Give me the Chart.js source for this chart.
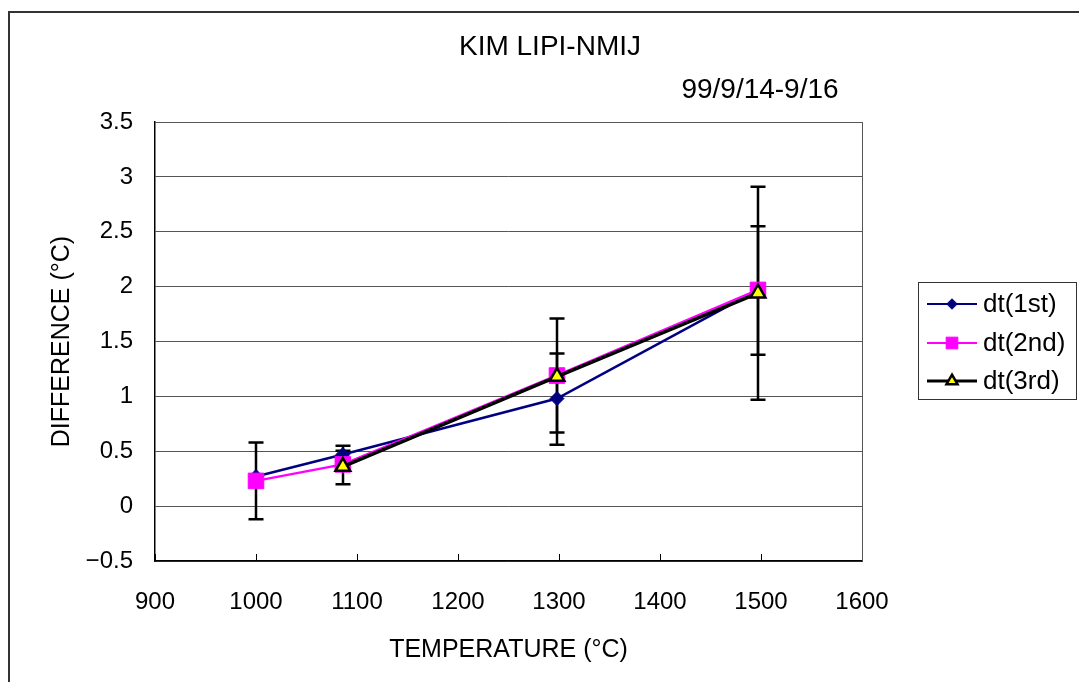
<!DOCTYPE html>
<html><head><meta charset="utf-8">
<script src="https://cdn.jsdelivr.net/npm/chart.js@4"></script>
<style>
html,body{margin:0;padding:0;background:#fff;overflow:hidden}
#wrap{position:relative;width:1079px;height:682px;overflow:hidden}
#frame{position:absolute;left:8px;top:11px;width:1200px;height:800px;border-left:2px solid #333;border-top:2px solid #333}
canvas{position:absolute;left:0;top:0}
</style></head><body>
<div id="wrap"><div id="frame"></div><canvas id="c" width="1079" height="682"></canvas></div>
<script>
// ---- data ----
const chartTitle = 'KIM LIPI-NMIJ';
const chartDate = '99/9/14-9/16';
const seriesNames = ['dt(1st)', 'dt(2nd)', 'dt(3rd)'];
const temperatures = [1000, 1086, 1298, 1497];
const dt1st = [0.27, 0.47, 0.98, 1.97];
const dt2nd = [0.23, 0.38, 1.19, 1.97];
const dt3rd = [null, 0.36, 1.18, 1.94];
// error bar limits (low / high) for each point
const err1stLow  = [null, 0.43, 0.56, 0.97];
const err1stHigh = [null, 0.505, 1.39, 2.91];
const err2ndLow  = [-0.12, null, 0.67, 1.38];
const err2ndHigh = [0.58, null, 1.71, 2.55];
const err3rdLow  = [null, 0.20, null, null];
const err3rdHigh = [null, 0.55, null, null];
const xTicks = [900, 1000, 1100, 1200, 1300, 1400, 1500, 1600];
const yTicks = [-0.5, 0, 0.5, 1, 1.5, 2, 2.5, 3, 3.5];
const yTickLabels = ['\u22120.5', '0', '0.5', '1', '1.5', '2', '2.5', '3', '3.5'];

const FONT = "'Liberation Sans', Arial, sans-serif";

function pts(ys) { return temperatures.map((t, i) => ({x: t, y: ys[i]})); }

const styles = [
  {color: '#000080', width: 2.5, style: 'rectRot', radius: 7, bg: '#000080', pb: '#000080', pbw: 1},
  {color: '#FF00FF', width: 2.5, style: 'rect', radius: 11, bg: '#FF00FF', pb: '#FF00FF', pbw: 1},
  {color: '#000000', width: 3.5, style: 'triangle', radius: 8.5, bg: '#FFFF00', pb: '#000000', pbw: 2.5}
];
const seriesData = [dt1st, dt2nd, dt3rd];
const errLow = [err1stLow, err2ndLow, err3rdLow];
const errHigh = [err1stHigh, err2ndHigh, err3rdHigh];

const datasets = seriesData.map((d, i) => ({
  label: seriesNames[i],
  data: pts(d),
  borderColor: styles[i].color,
  borderWidth: styles[i].width,
  backgroundColor: styles[i].bg,
  pointStyle: styles[i].style,
  pointRadius: styles[i].radius,
  pointHoverRadius: styles[i].radius,
  pointBackgroundColor: styles[i].bg,
  pointBorderColor: styles[i].pb,
  pointBorderWidth: styles[i].pbw,
  tension: 0,
  order: 3 - i
}));

const errorBars = {
  id: 'errorBars',
  beforeDatasetsDraw(chart) {
    const {ctx, scales: {x, y}} = chart;
    ctx.save();
    ctx.strokeStyle = '#000';
    ctx.lineWidth = 2.5;
    for (let s = 0; s < 3; s++) {
      for (let i = 0; i < temperatures.length; i++) {
        const lo = errLow[s][i], hi = errHigh[s][i];
        if (lo == null || hi == null) continue;
        const px = Math.round(x.getPixelForValue(temperatures[i]));
        const p1 = y.getPixelForValue(lo), p2 = y.getPixelForValue(hi);
        ctx.beginPath();
        ctx.moveTo(px, p1); ctx.lineTo(px, p2);
        ctx.moveTo(px - 7.5, p1); ctx.lineTo(px + 7.5, p1);
        ctx.moveTo(px - 7.5, p2); ctx.lineTo(px + 7.5, p2);
        ctx.stroke();
      }
    }
    ctx.restore();
  }
};

const decor = {
  id: 'decor',
  beforeDatasetsDraw(chart) {
    const {ctx, chartArea: a} = chart;
    ctx.save();
    ctx.strokeStyle = '#555';
    ctx.lineWidth = 1;
    ctx.beginPath();
    ctx.moveTo(Math.round(a.right) + 0.5, a.top);
    ctx.lineTo(Math.round(a.right) + 0.5, a.bottom);
    ctx.stroke();
    ctx.restore();
  },
  afterDraw(chart) {
    const {ctx} = chart;
    ctx.save();
    ctx.fillStyle = '#000';
    ctx.textBaseline = 'middle';
    ctx.textAlign = 'center';
    ctx.font = '28px ' + FONT;
    ctx.fillText(chartTitle, 550, 47);
    ctx.font = '28px ' + FONT;
    ctx.fillText(chartDate, 760, 90);
    // legend
    const bx = 918.5, by = 282.5, bw = 158, bh = 117;
    ctx.strokeStyle = '#333';
    ctx.lineWidth = 1;
    ctx.fillStyle = '#fff';
    ctx.fillRect(bx, by, bw, bh);
    ctx.strokeRect(bx, by, bw, bh);
    const rowsY = [304, 343, 381];
    chart.data.datasets.forEach((ds, i) => {
      const yy = rowsY[i];
      ctx.strokeStyle = ds.borderColor;
      ctx.lineWidth = ds.borderWidth * 0.8;
      ctx.beginPath();
      ctx.moveTo(927, yy); ctx.lineTo(977, yy);
      ctx.stroke();
      ctx.fillStyle = ds.pointBackgroundColor;
      ctx.strokeStyle = ds.pointBorderColor;
      ctx.lineWidth = ds.pointBorderWidth;
      Chart.helpers.drawPoint(ctx, {pointStyle: ds.pointStyle, radius: ds.pointRadius * 0.75, rotation: 0, borderWidth: ds.pointBorderWidth}, 952, yy);
      ctx.fillStyle = '#000';
      ctx.textAlign = 'left';
      ctx.font = '26px ' + FONT;
      ctx.fillText(ds.label, 983, yy + 1);
    });
    ctx.restore();
  }
};

new Chart(document.getElementById('c'), {
  type: 'line',
  data: {datasets},
  plugins: [errorBars, decor],
  options: {
    responsive: false,
    animation: false,
    events: [],
    layout: {padding: {left: 0, top: 122, right: 217, bottom: 0}},
    plugins: {legend: {display: false}, title: {display: false}, tooltip: {enabled: false}},
    scales: {
      x: {
        type: 'linear', min: 900, max: 1600,
        afterBuildTicks(s) { s.ticks = xTicks.map(v => ({value: v})); },
        afterFit(s) { s.height = 121; },
        grid: {drawOnChartArea: false, drawTicks: true, tickLength: -7, color: '#000', lineWidth: 1},
        border: {display: true, color: '#000', width: 1.5},
        ticks: {color: '#000', padding: 34, font: {family: FONT, size: 24}, maxRotation: 0,
          callback: (v) => String(v)},
        title: {display: true, text: 'TEMPERATURE (\u00B0C)', color: '#000', font: {family: FONT, size: 25}, padding: {top: 0, bottom: 17}}
      },
      y: {
        type: 'linear', min: -0.5, max: 3.5,
        afterBuildTicks(s) { s.ticks = yTicks.map(v => ({value: v})); },
        afterFit(s) { s.width = 155; },
        grid: {color: '#555', lineWidth: 1, drawTicks: false},
        border: {display: true, color: '#000', width: 1.5},
        ticks: {color: '#000', padding: 22, font: {family: FONT, size: 24},
          callback: (v) => yTickLabels[yTicks.indexOf(v)]},
        title: {display: true, text: 'DIFFERENCE (\u00B0C)', color: '#000', font: {family: FONT, size: 25}, padding: {top: 47, bottom: 0}}
      }
    }
  }
});
</script>
</body></html>
